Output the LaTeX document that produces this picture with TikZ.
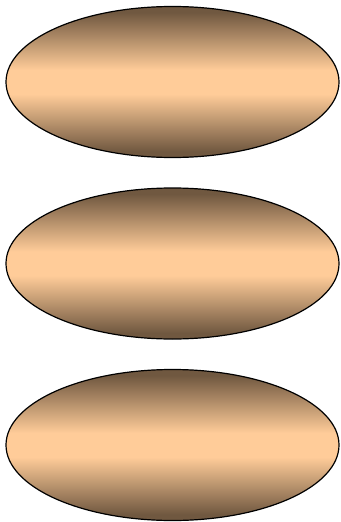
\documentclass[tikz,border=0pt]{standalone}
\usetikzlibrary{shapes.geometric}
\definecolor{peach}{RGB}{255,204,153}
\definecolor{mocha}{RGB}{112,88,64}
\pgfdeclareverticalshading{ovalshade}{100bp}{color(0bp)=(mocha); color(27bp)=(mocha);
  color(46bp)=(peach); color(54bp)=(peach); color(73bp)=(mocha); color(100bp)=(mocha)}
\tikzset{
  oval/.style={draw, ellipse, line width=1.2pt, inner sep=0pt,
    minimum width=333pt, minimum height=151pt, shading=ovalshade}
}
\begin{document}
\begin{tikzpicture}[x=1pt, y=-1pt]
\useasboundingbox (0,0) rectangle (340,522);
\node[oval] (first) at (172.5,82) {};
\node[oval] (second) at (172.5,263.5) {};
\node[oval] (third) at (172.5,445) {};
\end{tikzpicture}
\end{document}
